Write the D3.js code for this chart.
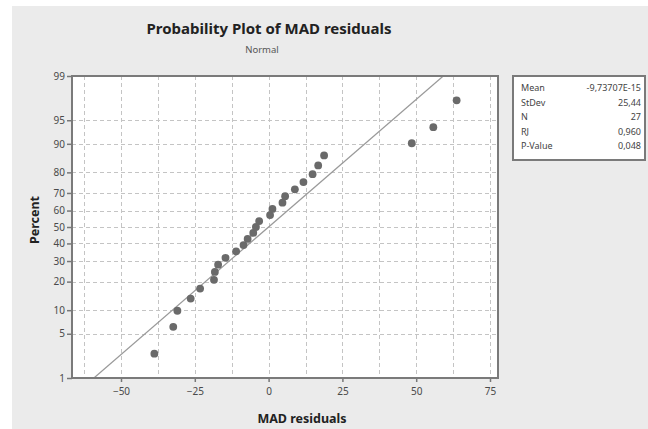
<!DOCTYPE html>
<html>
<head>
<meta charset="utf-8">
<script src="https://cdn.jsdelivr.net/npm/d3@7"></script>
<style>
  html, body { margin: 0; padding: 0; background: #ffffff; }
  svg { display: block; }
  text { font-family: "Noto Sans", "Open Sans", sans-serif; }
</style>
</head>
<body>
<svg id="chart" width="648" height="429"></svg>
<script>
// Residuals, sorted ascending
const residuals = [-38.7, -32.3, -30.9, -26.4, -23.2, -18.5, -18.2, -17.1, -14.6,
                   -11.0, -8.5, -7.1, -5.2, -4.3, -3.2, 0.5, 1.3, 4.7, 5.6, 8.9,
                   11.8, 14.9, 16.8, 18.8, 48.5, 55.8, 63.7];
// Plotting positions (percent) for each sorted residual
const percents = [2.55, 6.20, 9.85, 13.50, 17.15, 20.80, 24.45, 28.10, 31.75,
                  35.40, 39.05, 42.70, 46.35, 50.00, 53.65, 57.30, 60.95, 64.60,
                  68.25, 71.90, 75.55, 79.20, 82.85, 86.50, 90.15, 93.80, 97.45];
// Fitted normal distribution
const fitMean = -9.73707e-15;
const fitStDev = 25.44;
// Tick labels
const xTicks = [-50, -25, 0, 25, 50, 75];
const xGrid = [-62.5, -50, -37.5, -25, -12.5, 0, 12.5, 25, 37.5, 50, 62.5, 75];
const yTicks = [1, 5, 10, 20, 30, 40, 50, 60, 70, 80, 90, 95, 99];
// Summary table
const statNames = ["Mean", "StDev", "N", "RJ", "P-Value"];
const statValues = ["-9,73707E-15", "25,44", "27", "0,960", "0,048"];

// Inverse standard normal CDF (Acklam's rational approximation)
function probit(p) {
  const a = [-39.69683028665376, 220.9460984245205, -275.9285104469687,
             138.3577518672690, -30.66479806614716, 2.506628277459239];
  const b = [-54.47609879822406, 161.5858368580409, -155.6989798598866,
             66.80131188771972, -13.28068155288572];
  const c = [-0.007784894002430293, -0.3223964580411365, -2.400758277161838,
             -2.549732539343734, 4.374664141464968, 2.938163982698783];
  const d = [0.007784695709041462, 0.3224671290700398, 2.445134137142996,
             3.754408661907416];
  const pl = 0.02425, ph = 1 - pl;
  let q, r;
  if (p < pl) {
    q = Math.sqrt(-2 * Math.log(p));
    return (((((c[0]*q+c[1])*q+c[2])*q+c[3])*q+c[4])*q+c[5]) /
           ((((d[0]*q+d[1])*q+d[2])*q+d[3])*q+1);
  } else if (p <= ph) {
    q = p - 0.5; r = q * q;
    return (((((a[0]*r+a[1])*r+a[2])*r+a[3])*r+a[4])*r+a[5])*q /
           (((((b[0]*r+b[1])*r+b[2])*r+b[3])*r+b[4])*r+1);
  } else {
    q = Math.sqrt(-2 * Math.log(1 - p));
    return -(((((c[0]*q+c[1])*q+c[2])*q+c[3])*q+c[4])*q+c[5]) /
            ((((d[0]*q+d[1])*q+d[2])*q+d[3])*q+1);
  }
}

const svg = d3.select("#chart");
const W = 648, H = 429;
const plot = { left: 72, top: 76, right: 498, bottom: 378 };

// Panel background
svg.append("rect").attr("x", 12).attr("y", 6).attr("width", W - 12).attr("height", H - 6)
  .attr("fill", "#ebebeb");

const x = d3.scaleLinear().domain([-66.6, 77.71]).range([plot.left, plot.right]);
const y = d3.scaleLinear().domain([probit(0.01), probit(0.99)]).range([plot.bottom, plot.top]);
const yp = pct => y(probit(pct / 100));

// Plot area
svg.append("rect").attr("x", plot.left).attr("y", plot.top)
  .attr("width", plot.right - plot.left).attr("height", plot.bottom - plot.top)
  .attr("fill", "#ffffff");

// Grid lines
const grid = svg.append("g").attr("stroke", "#c4c4c4").attr("stroke-width", 1)
  .attr("stroke-dasharray", "4,3");
grid.selectAll("line.v").data(xGrid).join("line").attr("class", "v")
  .attr("x1", d => Math.round(x(d)) + 0.5).attr("x2", d => Math.round(x(d)) + 0.5)
  .attr("y1", plot.top).attr("y2", plot.bottom);
grid.selectAll("line.h").data(yTicks.filter(t => t > 1 && t < 99)).join("line").attr("class", "h")
  .attr("y1", d => Math.round(yp(d)) + 0.5).attr("y2", d => Math.round(yp(d)) + 0.5)
  .attr("x1", plot.left).attr("x2", plot.right);

// Fitted distribution line
const zLo = probit(0.01), zHi = probit(0.99);
svg.append("line")
  .attr("x1", x(fitMean + fitStDev * zLo)).attr("y1", y(zLo))
  .attr("x2", x(fitMean + fitStDev * zHi)).attr("y2", y(zHi))
  .attr("stroke", "#9a9a9a").attr("stroke-width", 1.2);

// Points
svg.append("g").selectAll("circle").data(residuals).join("circle")
  .attr("cx", d => x(d)).attr("cy", (d, i) => yp(percents[i]))
  .attr("r", 3.9).attr("fill", "#6a6a6a");

// Axes
const xAxis = d3.axisBottom(x).tickValues(xTicks).tickSize(4).tickPadding(3).tickFormat(d3.format("d"));
const gx = svg.append("g").attr("transform", `translate(0,${plot.bottom})`).call(xAxis);
const yAxis = d3.axisLeft(y).tickValues(yTicks.map(t => probit(t / 100))).tickSize(5).tickPadding(2)
  .tickFormat((d, i) => yTicks[i]);
const gy = svg.append("g").attr("transform", `translate(${plot.left},0)`).call(yAxis);
[gx, gy].forEach(g => {
  g.select(".domain").remove();
  g.selectAll(".tick line").attr("stroke", "#777777").attr("stroke-width", 1.5);
  g.selectAll(".tick text").attr("fill", "#4a4a4a").style("font-size", "10px")
    .style("font-family", "'Noto Sans', sans-serif");
});
gx.selectAll(".tick text").attr("dy", "1em");

// Plot frame
svg.append("rect").attr("x", plot.left).attr("y", plot.top)
  .attr("width", plot.right - plot.left).attr("height", plot.bottom - plot.top)
  .attr("fill", "none").attr("stroke", "#7a7a7a").attr("stroke-width", 2);

// Titles
svg.append("text").attr("x", 269).attr("y", 34).attr("text-anchor", "middle")
  .style("font-size", "15px").style("font-weight", "bold").attr("fill", "#222222")
  .text("Probability Plot of MAD residuals");
svg.append("text").attr("x", 262).attr("y", 53).attr("text-anchor", "middle")
  .style("font-size", "9.5px").attr("fill", "#555555").text("Normal");
svg.append("text").attr("x", 302).attr("y", 423).attr("text-anchor", "middle")
  .style("font-size", "12.5px").style("font-weight", "bold").attr("fill", "#222222")
  .text("MAD residuals");
svg.append("text").attr("transform", "translate(39,220) rotate(-90)").attr("text-anchor", "middle")
  .style("font-size", "12.5px").style("font-weight", "bold").attr("fill", "#222222")
  .text("Percent");

// Summary table
svg.append("rect").attr("x", 513).attr("y", 76).attr("width", 132).attr("height", 84)
  .attr("fill", "#ffffff").attr("stroke", "#7a7a7a").attr("stroke-width", 2);
const rows = svg.append("g").selectAll("g").data(statNames).join("g")
  .attr("transform", (d, i) => `translate(0,${91 + i * 14.5})`);
rows.append("text").attr("x", 521).style("font-size", "9px").attr("fill", "#444444").text(d => d);
rows.append("text").attr("x", 641).attr("text-anchor", "end").style("font-size", "9px")
  .attr("fill", "#444444").text((d, i) => statValues[i]);
</script>
</body>
</html>
